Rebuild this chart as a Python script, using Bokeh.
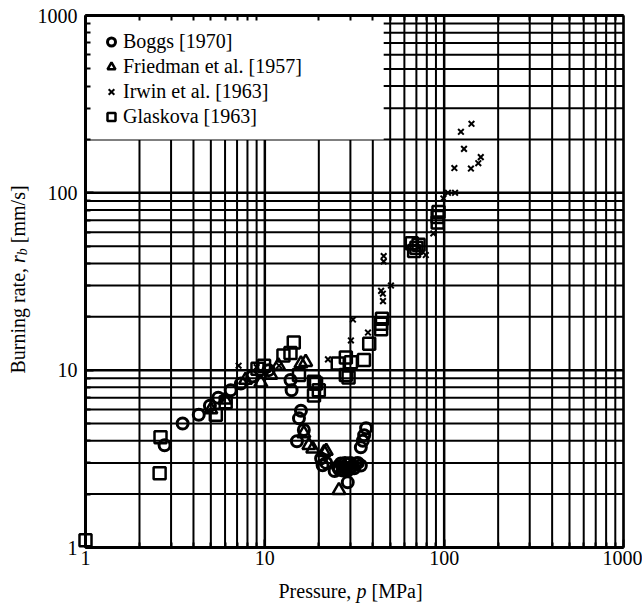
from bokeh.plotting import figure
from bokeh.models import (FixedTicker, BoxAnnotation, Label, Legend, LegendItem,
                          PrintfTickFormatter, LogAxis)
from bokeh.embed import file_html
from bokeh.resources import INLINE

# ---------------- data ----------------
boggs_p = [2.76, 3.48, 4.28, 4.94, 5.5, 6.45, 7.35, 8.5, 10.5, 13.9, 14.1, 15.9, 15.5,
           16.5, 15.1, 20.6, 21.0, 22.0, 24.5, 25.5, 26.0, 26.5, 27.2, 27.5, 28.0, 28.5,
           29.0, 29.5, 30.0, 30.5, 31.5, 32.2, 33.0, 34.3, 34.3, 35.2, 35.8, 36.7]
boggs_r = [3.77, 5.0, 5.6, 6.3, 7.0, 7.7, 8.4, 9.2, 10.0, 8.8, 7.7, 5.9, 5.35,
           4.6, 3.97, 3.18, 2.91, 3.0, 2.7, 2.85, 2.75, 2.98, 2.72, 2.85, 3.0, 2.8,
           2.33, 2.75, 3.0, 2.85, 2.8, 2.98, 3.0, 2.9, 3.67, 4.0, 4.3, 4.7]

friedman_p = [5.0, 6.0, 7.8, 9.5, 10.8, 11.9, 15.9, 16.9, 16.5, 17.6, 18.5, 21.4, 22.0, 25.9]
friedman_r = [6.0, 6.8, 8.8, 8.5, 9.4, 10.6, 10.9, 11.1, 4.4, 3.77, 3.6, 3.44, 3.5, 2.1]

irwin_p = [7.14, 9.0, 12.0, 22.5, 30.2, 31.0, 37.6, 45.5, 50.5, 44.5, 45.6, 46.0, 46.0,
           79.0, 87.0, 99.0, 105.0, 115.0, 114.0, 141.0, 155.0, 160.0, 129.0, 124.0, 142.0]
irwin_r = [10.6, 10.4, 10.6, 11.5, 14.7, 19.3, 16.3, 27.0, 30.0, 28.0, 24.5, 44.0, 41.0,
           44.6, 59.0, 93.0, 100.0, 100.0, 138.0, 137.0, 147.0, 159.0, 177.0, 221.0, 245.0]

glaskova_p = [1.0, 2.62, 2.59, 5.33, 6.05, 9.1, 9.9, 12.7, 14.5, 13.9, 15.5, 19.3, 18.8,
              20.0, 18.8, 25.5, 28.3, 28.3, 29.3, 30.2, 35.7, 38.2, 44.5, 44.5, 45.0,
              66.0, 70.0, 68.0, 72.0, 92.0, 92.0, 93.0]
glaskova_r = [1.1, 4.18, 2.62, 5.6, 6.6, 10.2, 10.6, 12.1, 14.3, 12.5, 9.4, 8.4, 7.2,
              7.7, 8.6, 10.9, 11.8, 9.4, 9.1, 11.1, 11.4, 14.1, 17.0, 18.3, 19.5,
              52.0, 49.0, 47.0, 51.0, 68.0, 73.0, 78.0]

legend_labels = ["Boggs [1970]", "Friedman et al. [1957]", "Irwin et al. [1963]", "Glaskova [1963]"]

major_ticks = [1, 10, 100, 1000]
minor_ticks = [2, 3, 4, 5, 6, 7, 8, 9, 20, 30, 40, 50, 60, 70, 80, 90,
               200, 300, 400, 500, 600, 700, 800, 900]
axis_lo, axis_hi = 1, 1000

# ---------------- layout (pixel geometry of the frame) ----------------
W, H = 642, 606
PX_L, PX_R, PY_T, PY_B = 85, 623, 15, 547
dec_x = (PX_R - PX_L) / 3.0
dec_y = (PY_B - PY_T) / 3.0
x_lo = 10 ** (-PX_L / dec_x)
x_hi = 10 ** (3 + (W - PX_R) / dec_x)
y_lo = 10 ** (-(H - PY_B) / dec_y)
y_hi = 10 ** (3 + PY_T / dec_y)

FONT = "Liberation Serif"
FS = "20px"

p = figure(width=W, height=H, x_axis_type="log", y_axis_type="log",
           x_range=(x_lo, x_hi), y_range=(y_lo, y_hi), title=None,
           output_backend="svg", toolbar_location=None,
           min_border_left=0, min_border_right=0, min_border_top=0, min_border_bottom=0)
p.background_fill_color = "white"
p.border_fill_color = "white"
p.outline_line_color = None
p.xgrid.visible = False
p.ygrid.visible = False

ticker = FixedTicker(ticks=major_ticks, minor_ticks=minor_ticks)
for ax in (p.xaxis[0], p.yaxis[0]):
    ax.ticker = ticker
    ax.fixed_location = axis_lo
    ax.bounds = (axis_lo, axis_hi)
    ax.formatter = PrintfTickFormatter(format="%d")
    ax.axis_line_width = 3
    ax.major_tick_in = 8
    ax.major_tick_out = 0
    ax.minor_tick_in = 5
    ax.minor_tick_out = 0
    ax.major_tick_line_width = 2
    ax.minor_tick_line_width = 2
    ax.major_label_text_font = FONT
    ax.major_label_text_font_size = FS
    ax.major_label_text_color = "black"
p.xaxis.major_label_standoff = 3
p.yaxis.major_label_standoff = 8

# top frame ticks (no labels)
top_axis = LogAxis(ticker=FixedTicker(ticks=[], minor_ticks=minor_ticks),
                   fixed_location=axis_hi, bounds=(axis_lo, axis_hi),
                   axis_line_width=3, major_tick_in=0, major_tick_out=0,
                   minor_tick_in=5, minor_tick_out=0, minor_tick_line_width=2)
p.add_layout(top_axis, "above")

# grid lines (graph paper), spanning only the axis limits
n_maj, n_min = len(major_ticks), len(minor_ticks)
p.segment(x0=minor_ticks, x1=minor_ticks, y0=[axis_lo] * n_min, y1=[axis_hi] * n_min,
          line_color="black", line_width=2)
p.segment(x0=[axis_lo] * n_min, x1=[axis_hi] * n_min, y0=minor_ticks, y1=minor_ticks,
          line_color="black", line_width=2)
p.segment(x0=major_ticks, x1=major_ticks, y0=[axis_lo] * n_maj, y1=[axis_hi] * n_maj,
          line_color="black", line_width=2.5)
p.segment(x0=[axis_lo] * n_maj, x1=[axis_hi] * n_maj, y0=major_ticks, y1=major_ticks,
          line_color="black", line_width=2.5)

# white area behind the legend (hides the grid there)
p.add_layout(BoxAnnotation(left=axis_lo, right=46, bottom=200, top=axis_hi,
                           fill_color="white", fill_alpha=1, line_color=None, level="glyph"))
# frame
p.add_layout(BoxAnnotation(left=axis_lo, right=axis_hi, bottom=axis_lo, top=axis_hi,
                           fill_color=None, fill_alpha=0, line_color="black", line_width=3,
                           level="glyph"))

r1 = p.scatter(boggs_p, boggs_r, marker="circle", size=11, fill_color=None,
               line_color="black", line_width=3)
r2 = p.scatter(friedman_p, friedman_r, marker="triangle", size=13, fill_color=None,
               line_color="black", line_width=2.5)
r3 = p.scatter(irwin_p, irwin_r, marker="x", size=8, line_color="black", line_width=2)
r4 = p.scatter(glaskova_p, glaskova_r, marker="square", size=12, fill_color=None,
               line_color="black", line_width=2.5)

legend = Legend(items=[LegendItem(label=l, renderers=[r]) for l, r in
                       zip(legend_labels, [r1, r2, r3, r4])],
                location=(PX_L + 16, H - PY_T - 114))
legend.margin = 0
legend.padding = 12
legend.spacing = 0
legend.glyph_width = 20
legend.glyph_height = 25
legend.label_height = 25
legend.label_standoff = 2
legend.border_line_color = None
legend.background_fill_alpha = 0
legend.label_text_font = FONT
legend.label_text_font_size = FS
legend.label_text_color = "black"
p.add_layout(legend)

# x axis label: "Pressure, p [MPa]" with italic p
xc = 10 ** 1.5
for txt, off, style in [("Pressure,", -76, "normal"), ("p", 2, "italic"), ("[MPa]", 17, "normal")]:
    p.add_layout(Label(x=xc, y=axis_lo, x_offset=off, y_offset=-43, text=txt,
                       text_font=FONT, text_font_size=FS, text_font_style=style,
                       text_align="left", text_baseline="middle", text_color="black"))

# y axis label: "Burning rate, r_b [mm/s]"
yc = 10 ** 1.5
for txt, off, xoff, fs, style in [("Burning rate,", -92, -68, FS, "normal"),
                                  ("r", 18.5, -68, FS, "italic"),
                                  ("b", 26.3, -63, "14px", "italic"),
                                  ("[mm/s]", 38.3, -68, FS, "normal")]:
    p.add_layout(Label(x=axis_lo, y=yc, x_offset=xoff, y_offset=off, text=txt, angle=90,
                       angle_units="deg", text_font=FONT, text_font_size=fs,
                       text_font_style=style, text_align="left", text_baseline="middle",
                       text_color="black"))

open("out.html", "w").write(file_html(p, INLINE))
